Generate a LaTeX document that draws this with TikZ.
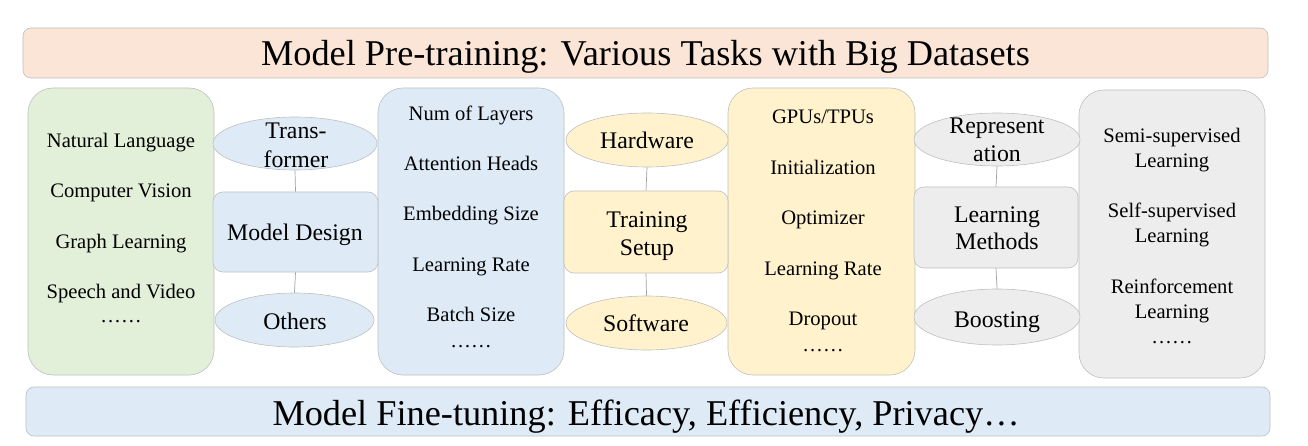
\documentclass[tikz,border=0pt]{standalone}
\usepackage{fontspec}
\setmainfont{Liberation Serif}
\usetikzlibrary{shapes.geometric}
\definecolor{cgreen}{HTML}{E2F0D9}
\definecolor{cblue}{HTML}{DEEBF7}
\definecolor{cyellow}{HTML}{FFF2CC}
\definecolor{cgray}{HTML}{EDEDED}
\definecolor{cpeach}{HTML}{FBE5D6}
\definecolor{cborder}{HTML}{BFBFBF}
\definecolor{cline}{HTML}{A0A0A0}
\tikzset{
  bigbox/.style={draw=cborder, line width=0.6pt, rectangle, rounded corners=25pt, minimum width=186pt, minimum height=287pt, inner sep=0pt},
  midbox/.style={draw=cborder, line width=0.6pt, rectangle, rounded corners=10pt, minimum width=164pt, minimum height=81pt, inner sep=0pt},
  oval/.style={draw=cborder, line width=0.6pt, ellipse, minimum width=164pt, minimum height=54pt, inner sep=0pt},
  bar/.style={draw=cborder, line width=0.6pt, rectangle, rounded corners=8pt, minimum height=50pt, inner sep=0pt},
  item/.style={anchor=base, inner sep=0pt, font=\fontsize{20.6}{25}\selectfont},
  mid/.style={anchor=base, inner sep=0pt, font=\fontsize{23.8}{28}\selectfont},
  ttl/.style={anchor=base, inner sep=0pt, font=\fontsize{36.3}{40}\selectfont},
  conn/.style={draw=cline, line width=0.7pt}
}
\begin{document}
\begin{tikzpicture}[x=1pt,y=-1pt]
\useasboundingbox (0,0) rectangle (1308,446);
% bars
\node[bar, fill=cpeach, minimum width=1245pt] (top) at (645.5,53) {};
\node[bar, fill=cblue, minimum width=1244pt, minimum height=49pt] (bot) at (648,411.5) {};
% big boxes
\node[bigbox, fill=cgreen] (dom) at (121,231.5) {};
\node[bigbox, fill=cblue] (par) at (471,231.5) {};
\node[bigbox, fill=cyellow, minimum width=187pt] (hw) at (821.5,231.5) {};
\node[bigbox, fill=cgray, minimum height=288pt] (lm) at (1172,234) {};
% middle boxes
\node[midbox, fill=cblue, minimum width=165pt, minimum height=80pt] (md) at (295.5,232) {};
\node[midbox, fill=cyellow, minimum height=82pt] (ts) at (646,232) {};
\node[midbox, fill=cgray] (lmeth) at (996,227.5) {};
% ellipses
\node[oval, fill=cblue, minimum height=53pt] (trans) at (295,143.5) {};
\node[oval, fill=cblue, minimum width=159pt] (oth) at (294.5,320) {};
\node[oval, fill=cyellow, minimum width=162pt] (hard) at (647,140) {};
\node[oval, fill=cyellow, minimum width=161pt] (soft) at (646.5,323) {};
\node[oval, fill=cgray, minimum width=166pt, minimum height=53pt] (rep) at (997,139.5) {};
\node[oval, fill=cgray, minimum width=166pt, minimum height=56pt] (boost) at (997,317) {};
% connectors
\draw[conn] (trans.south) -- (md.north);
\draw[conn] (md.south) -- (oth.north);
\draw[conn] (hard.south) -- (ts.north);
\draw[conn] (ts.south) -- (soft.north);
\draw[conn] (rep.south) -- (lmeth.north);
\draw[conn] (lmeth.south) -- (boost.north);
% titles
\node[ttl] (ttop) at (645.5,66) {Model Pre-training: Various Tasks with Big Datasets};
\node[ttl] (tbot) at (646,425) {Model Fine-tuning: Efficacy, Efficiency, Privacy…};
% green box items
\node[item] (d1) at (121,148) {Natural Language};
\node[item] (d2) at (121,198) {Computer Vision};
\node[item] (d3) at (121,248) {Graph Learning};
\node[item] (d4) at (121,298) {Speech and Video};
\node[item] (d5) at (121,322) {……};
% params items
\node[item] (p1) at (471,121) {Num of Layers};
\node[item] (p2) at (471,171) {Attention Heads};
\node[item] (p3) at (471,221) {Embedding Size};
\node[item] (p4) at (471,271) {Learning Rate};
\node[item] (p5) at (471,321) {Batch Size};
\node[item] (p6) at (471,347) {……};
% yellow items
\node[item] (h1) at (823,124) {GPUs/TPUs};
\node[item] (h2) at (823,175) {Initialization};
\node[item] (h3) at (823,225) {Optimizer};
\node[item] (h4) at (823,275) {Learning Rate};
\node[item] (h5) at (823,325) {Dropout};
\node[item] (h6) at (823,351) {……};
% gray items
\node[item] (l1) at (1172,143) {Semi-supervised};
\node[item] (l2) at (1172,168) {Learning};
\node[item] (l3) at (1172,218) {Self-supervised};
\node[item] (l4) at (1172,243) {Learning};
\node[item] (l5) at (1172,293) {Reinforcement};
\node[item] (l6) at (1172,318) {Learning};
\node[item] (l7) at (1172,343) {……};
% middle texts
\node[mid] (m1) at (296,139) {Trans-};
\node[mid] (m2) at (296,168) {former};
\node[mid] (m3) at (295,241) {Model Design};
\node[mid] (m4) at (295,329) {Others};
\node[mid] (m5) at (647,149) {Hardware};
\node[mid] (m6) at (647,228) {Training};
\node[mid] (m7) at (647,255) {Setup};
\node[mid] (m8) at (646,331) {Software};
\node[mid] (m9) at (997,134) {Represent};
\node[mid] (m10) at (997,162) {ation};
\node[mid] (m11) at (997,223) {Learning};
\node[mid] (m12) at (997,250) {Methods};
\node[mid] (m13) at (997,327) {Boosting};
\end{tikzpicture}
\end{document}
